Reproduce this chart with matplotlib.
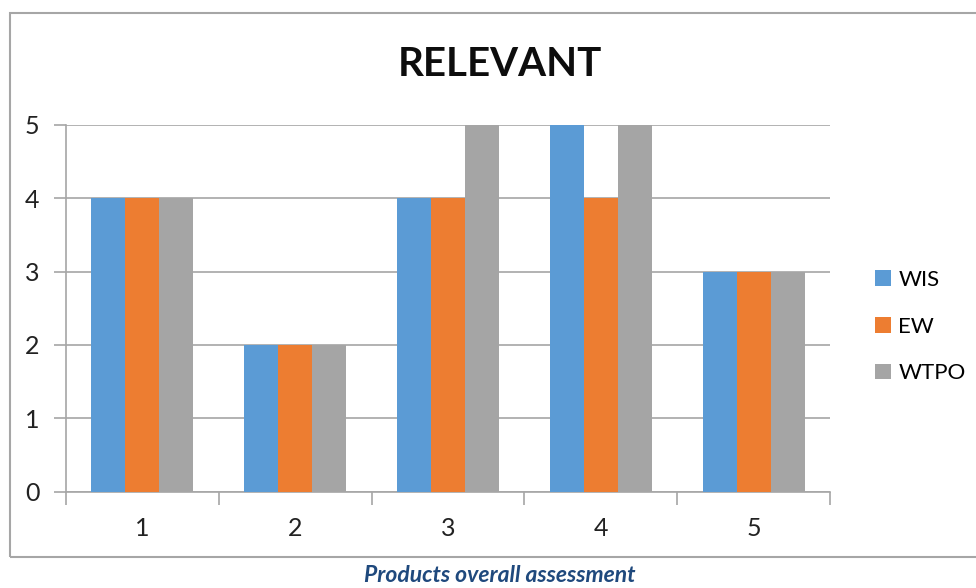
import matplotlib
matplotlib.use("Agg")
import matplotlib.pyplot as plt
from matplotlib.patches import Rectangle
import numpy as np

categories = ["1", "2", "3", "4", "5"]
series_names = ["WIS", "EW", "WTPO"]
wis = [4, 2, 4, 5, 3]
ew = [4, 2, 4, 4, 3]
wtpo = [4, 2, 5, 5, 3]
colors = ["#5B9BD5", "#ED7D31", "#A5A5A5"]
y_ticks = [0, 1, 2, 3, 4, 5]

W, H = 976, 588
fig = plt.figure(figsize=(W / 100, H / 100), dpi=100)
plt.rcParams["font.family"] = ["Lato", "DejaVu Sans"]

# chart frame
fig.patches.append(Rectangle((10 / W, 1 - 557 / H), 975 / W, (557 - 13) / H,
                             transform=fig.transFigure, fill=False,
                             edgecolor="#A6A6A6", linewidth=1.5))

ax_l, ax_r, ax_t, ax_b = 66, 830, 125, 491.5
ax = fig.add_axes([ax_l / W, 1 - ax_b / H, (ax_r - ax_l) / W, (ax_b - ax_t) / H])

x = np.arange(1, len(categories) + 1)
bw = 1 / (3 + 1.5)
for i, (vals, name) in enumerate(zip([wis, ew, wtpo], series_names)):
    ax.bar(x + (i - 1) * bw, vals, width=bw, color=colors[i], label=name, zorder=3)

ax.set_xlim(0.5, len(categories) + 0.5)
ax.set_ylim(0, 5)
ax.set_yticks(y_ticks)
ax.set_yticklabels([str(v) for v in y_ticks], fontsize=18, color="#222222")
ax.yaxis.grid(True, color="#A6A6A6", linewidth=1.2, zorder=0)
ax.tick_params(axis="y", length=9, width=1.2, color="#A6A6A6", pad=10)

ax.set_xticks(np.arange(0.5, len(categories) + 1.5, 1))
ax.set_xticklabels([])
ax.set_xticks(x, minor=True)
ax.set_xticklabels(categories, minor=True, fontsize=18, color="#222222")
ax.tick_params(axis="x", which="major", length=9, width=1.2, color="#A6A6A6")
ax.tick_params(axis="x", which="minor", length=0, pad=18)

for s in ["top", "right"]:
    ax.spines[s].set_visible(False)
for s in ["left", "bottom"]:
    ax.spines[s].set_color("#A6A6A6")
    ax.spines[s].set_linewidth(1.2)
ax.set_axisbelow(True)

fig.text(500 / W, 1 - 64 / H, "RELEVANT", ha="center", va="center",
         fontsize=29, fontweight="bold", color="#0D0D0D")

leg = fig.legend(loc="upper left", bbox_to_anchor=(855 / W, 1 - 250 / H),
                 frameon=False, fontsize=16, handlelength=0.7, handleheight=0.7,
                 handletextpad=0.35, labelspacing=1.2)

fig.text(500 / W, 1 - 576 / H, "Products overall assessment", ha="center",
         va="center", fontsize=16.5, fontweight="bold", style="italic",
         color="#1F497D")

fig.savefig("out.png", dpi=100)
